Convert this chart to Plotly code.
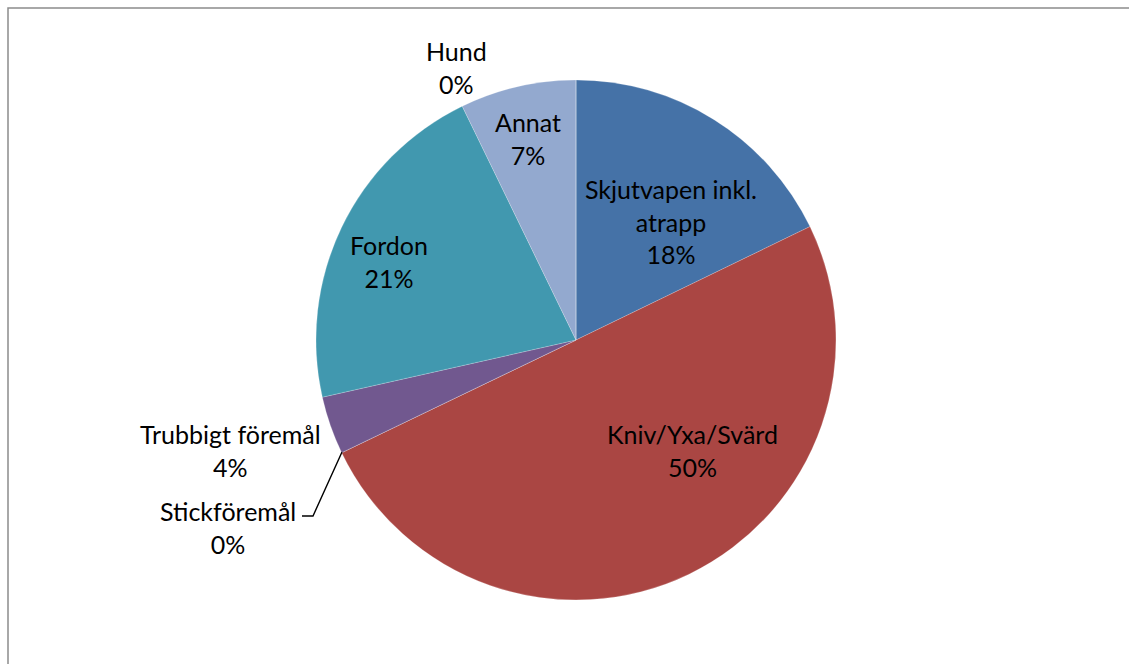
import plotly.graph_objects as go

categories = ["Skjutvapen inkl. atrapp", "Kniv/Yxa/Svärd", "Stickföremål",
              "Trubbigt föremål", "Fordon", "Annat", "Hund"]
display_labels = ["Skjutvapen inkl.<br>atrapp", "Kniv/Yxa/Svärd", "Stickföremål",
                  "Trubbigt föremål", "Fordon", "Annat", "Hund"]
values = [17.8, 50.0, 0.0, 3.6, 21.3, 7.2, 0.0]
colors = ["#4572A7", "#AA4643", "#89A54E", "#71588F", "#4198AF", "#93A9CF", "#DB843D"]

W, H = 1129, 664
cx, cy, r = 576, 340, 260

# label anchor positions in pixels (layout only)
label_pos = [(671, 222), (692, 450), (228, 527), (230, 450), (389, 261), (528, 139), (456, 67)]

FONT = "Lato"
FS = 25

fig = go.Figure(go.Pie(
    labels=categories,
    values=values,
    sort=False,
    direction="clockwise",
    rotation=0,
    marker=dict(colors=colors, line=dict(color="rgba(255,255,255,0.5)", width=0.4)),
    textinfo="none",
    hoverinfo="label+percent",
    showlegend=False,
    domain=dict(x=[(cx - r) / W, (cx + r) / W], y=[(H - cy - r) / H, (H - cy + r) / H]),
))

total = sum(values)
annotations = []
for lab, v, (px, py) in zip(display_labels, values, label_pos):
    pct = round(100 * v / total)
    annotations.append(dict(
        x=px / W, y=1 - py / H, xref="paper", yref="paper",
        text=f"{lab}<br>{pct}%", showarrow=False,
        font=dict(family=FONT, size=FS, color="#000000"),
        align="center", xanchor="center", yanchor="middle",
    ))

shapes = [
    dict(type="rect", xref="paper", yref="paper",
         x0=8 / W, y0=1 - 8 / H, x1=1.05, y1=-0.05,
         line=dict(color="#8c8c8c", width=1.5), fillcolor="rgba(0,0,0,0)", layer="below"),
    dict(type="path", xref="paper", yref="paper",
         path=f"M {342/W} {1-452/H} L {313/W} {1-516/H} L {302/W} {1-516/H}",
         line=dict(color="#000000", width=1.4)),
]

fig.update_layout(
    width=W, height=H,
    margin=dict(l=0, r=0, t=0, b=0),
    paper_bgcolor="white", plot_bgcolor="white",
    annotations=annotations, shapes=shapes,
)
fig.write_html("out.html", config={"displayModeBar": False},
               post_script="document.body.style.margin='0';document.body.style.overflow='hidden';")
